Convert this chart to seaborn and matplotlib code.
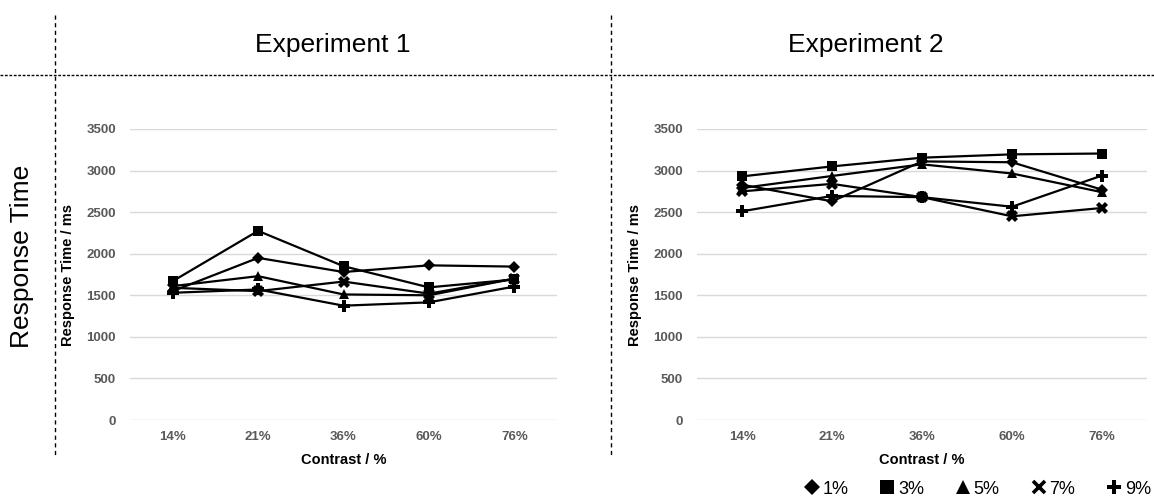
import matplotlib
matplotlib.use("Agg")
import matplotlib.pyplot as plt
from matplotlib.lines import Line2D
import seaborn as sns
import pandas as pd

# Contrast levels on the x axis
contrasts = ["14%", "21%", "36%", "60%", "76%"]
# Series (target proportion) labels
series = ["1%", "3%", "5%", "7%", "9%"]

# Mean response times (ms), Experiment 1
exp1_1 = [1550, 1950, 1780, 1860, 1845]
exp1_3 = [1670, 2275, 1850, 1595, 1690]
exp1_5 = [1610, 1730, 1510, 1500, 1700]
exp1_7 = [1590, 1550, 1665, 1520, 1700]
exp1_9 = [1530, 1570, 1375, 1415, 1605]

# Mean response times (ms), Experiment 2
exp2_1 = [2830, 2630, 3110, 3100, 2770]
exp2_3 = [2930, 3050, 3155, 3195, 3205]
exp2_5 = [2790, 2935, 3075, 2965, 2740]
exp2_7 = [2750, 2840, 2680, 2450, 2550]
exp2_9 = [2510, 2695, 2680, 2565, 2940]

yticks = [0, 500, 1000, 1500, 2000, 2500, 3000, 3500]

marker_map = {"1%": "D", "3%": "s", "5%": "^", "7%": "X", "9%": "P"}
size_map = {"1%": 6, "3%": 7, "5%": 7.5, "7%": 8, "9%": 8}


def long_frame(values):
    rows = []
    for name, vals in zip(series, values):
        for c, v in zip(contrasts, vals):
            rows.append({"Contrast": c, "RT": v, "Group": name})
    return pd.DataFrame(rows)


df1 = long_frame([exp1_1, exp1_3, exp1_5, exp1_7, exp1_9])
df2 = long_frame([exp2_1, exp2_3, exp2_5, exp2_7, exp2_9])

sns.set_theme(style="white")
plt.rcParams["font.family"] = ["Liberation Sans", "DejaVu Sans"]
plt.rcParams["text.color"] = "black"
plt.rcParams["axes.labelcolor"] = "black"

W, H = 1154, 498
fig = plt.figure(figsize=(W / 100, H / 100), dpi=100)


def px_axes(x0, x1, ytop, ybot):
    return fig.add_axes([x0 / W, 1 - ybot / H, (x1 - x0) / W, (ybot - ytop) / H])


ax1 = px_axes(130, 557, 129, 420)
ax2 = px_axes(697, 1147, 129, 420)

for ax, df in ((ax1, df1), (ax2, df2)):
    ax.set_axisbelow(True)
    for s in ax.spines.values():
        s.set_visible(False)
    ax.yaxis.grid(True, color="#d9d9d9", linewidth=1.0)
    ax.xaxis.grid(False)
    sns.lineplot(
        data=df, x="Contrast", y="RT", hue="Group", style="Group",
        hue_order=series, style_order=series,
        palette=["black"] * 5, markers=marker_map, dashes=False,
        markersize=7, markeredgewidth=0, linewidth=1.6, ax=ax, legend=False,
        sort=False,
    )
    for line, name in zip(ax.get_lines(), series):
        line.set_markersize(size_map[name])
    ax.set_xlim(-0.5, 4.5)
    ax.set_ylim(0, 3500)
    ax.set_yticks(yticks)
    ax.set_yticklabels([str(t) for t in yticks])
    ax.tick_params(axis="both", length=0, labelsize=9.5, labelcolor="#595959")
    ax.tick_params(axis="y", pad=10)
    ax.tick_params(axis="x", pad=8)
    for lab in ax.get_xticklabels() + ax.get_yticklabels():
        lab.set_fontweight("bold")
    ax.set_xlabel("Contrast / %", fontsize=10.5, fontweight="bold", color="black", labelpad=7)
    ax.set_ylabel("Response Time / ms", fontsize=10.5, fontweight="bold", color="black", labelpad=8)

# Panel frame: dashed separators
dash = dict(color="black", linewidth=1.0, linestyle=(0, (3, 2.5)))
fig.add_artist(Line2D([55 / W, 55 / W], [1 - 15 / H, 1 - 455 / H], transform=fig.transFigure, **dash))
fig.add_artist(Line2D([611 / W, 611 / W], [1 - 15 / H, 1 - 455 / H], transform=fig.transFigure, **dash))
fig.add_artist(Line2D([0, 1], [1 - 75 / H, 1 - 75 / H], transform=fig.transFigure,
                      color="black", linewidth=1.0, linestyle=(0, (2, 1.2))))

fig.text(333 / W, 1 - 45 / H, "Experiment 1", ha="center", va="center", fontsize=19, color="black")
fig.text(866 / W, 1 - 45 / H, "Experiment 2", ha="center", va="center", fontsize=19, color="black")
fig.text(22 / W, 1 - 256 / H, "Response Time", ha="center", va="center", rotation=90,
         fontsize=19, color="black")

legend_marker = {"1%": "D", "3%": "s", "5%": "^", "7%": "x", "9%": "P"}
legend_size = {"1%": 8, "3%": 10, "5%": 10, "7%": 8, "9%": 10}
handles = [
    Line2D([], [], linestyle="none", marker=legend_marker[s], color="black",
           markersize=legend_size[s], markeredgewidth=(2.6 if s == "7%" else 0), label=s)
    for s in series
]
leg = fig.legend(handles=handles, loc="center right", bbox_to_anchor=(1151 / W, 1 - 489 / H),
                 ncol=5, frameon=False, fontsize=13, handlelength=0.8, handletextpad=0.2,
                 columnspacing=1.75, borderaxespad=0, borderpad=0)
for t in leg.get_texts():
    t.set_color("black")

fig.savefig("out.png", dpi=100)
